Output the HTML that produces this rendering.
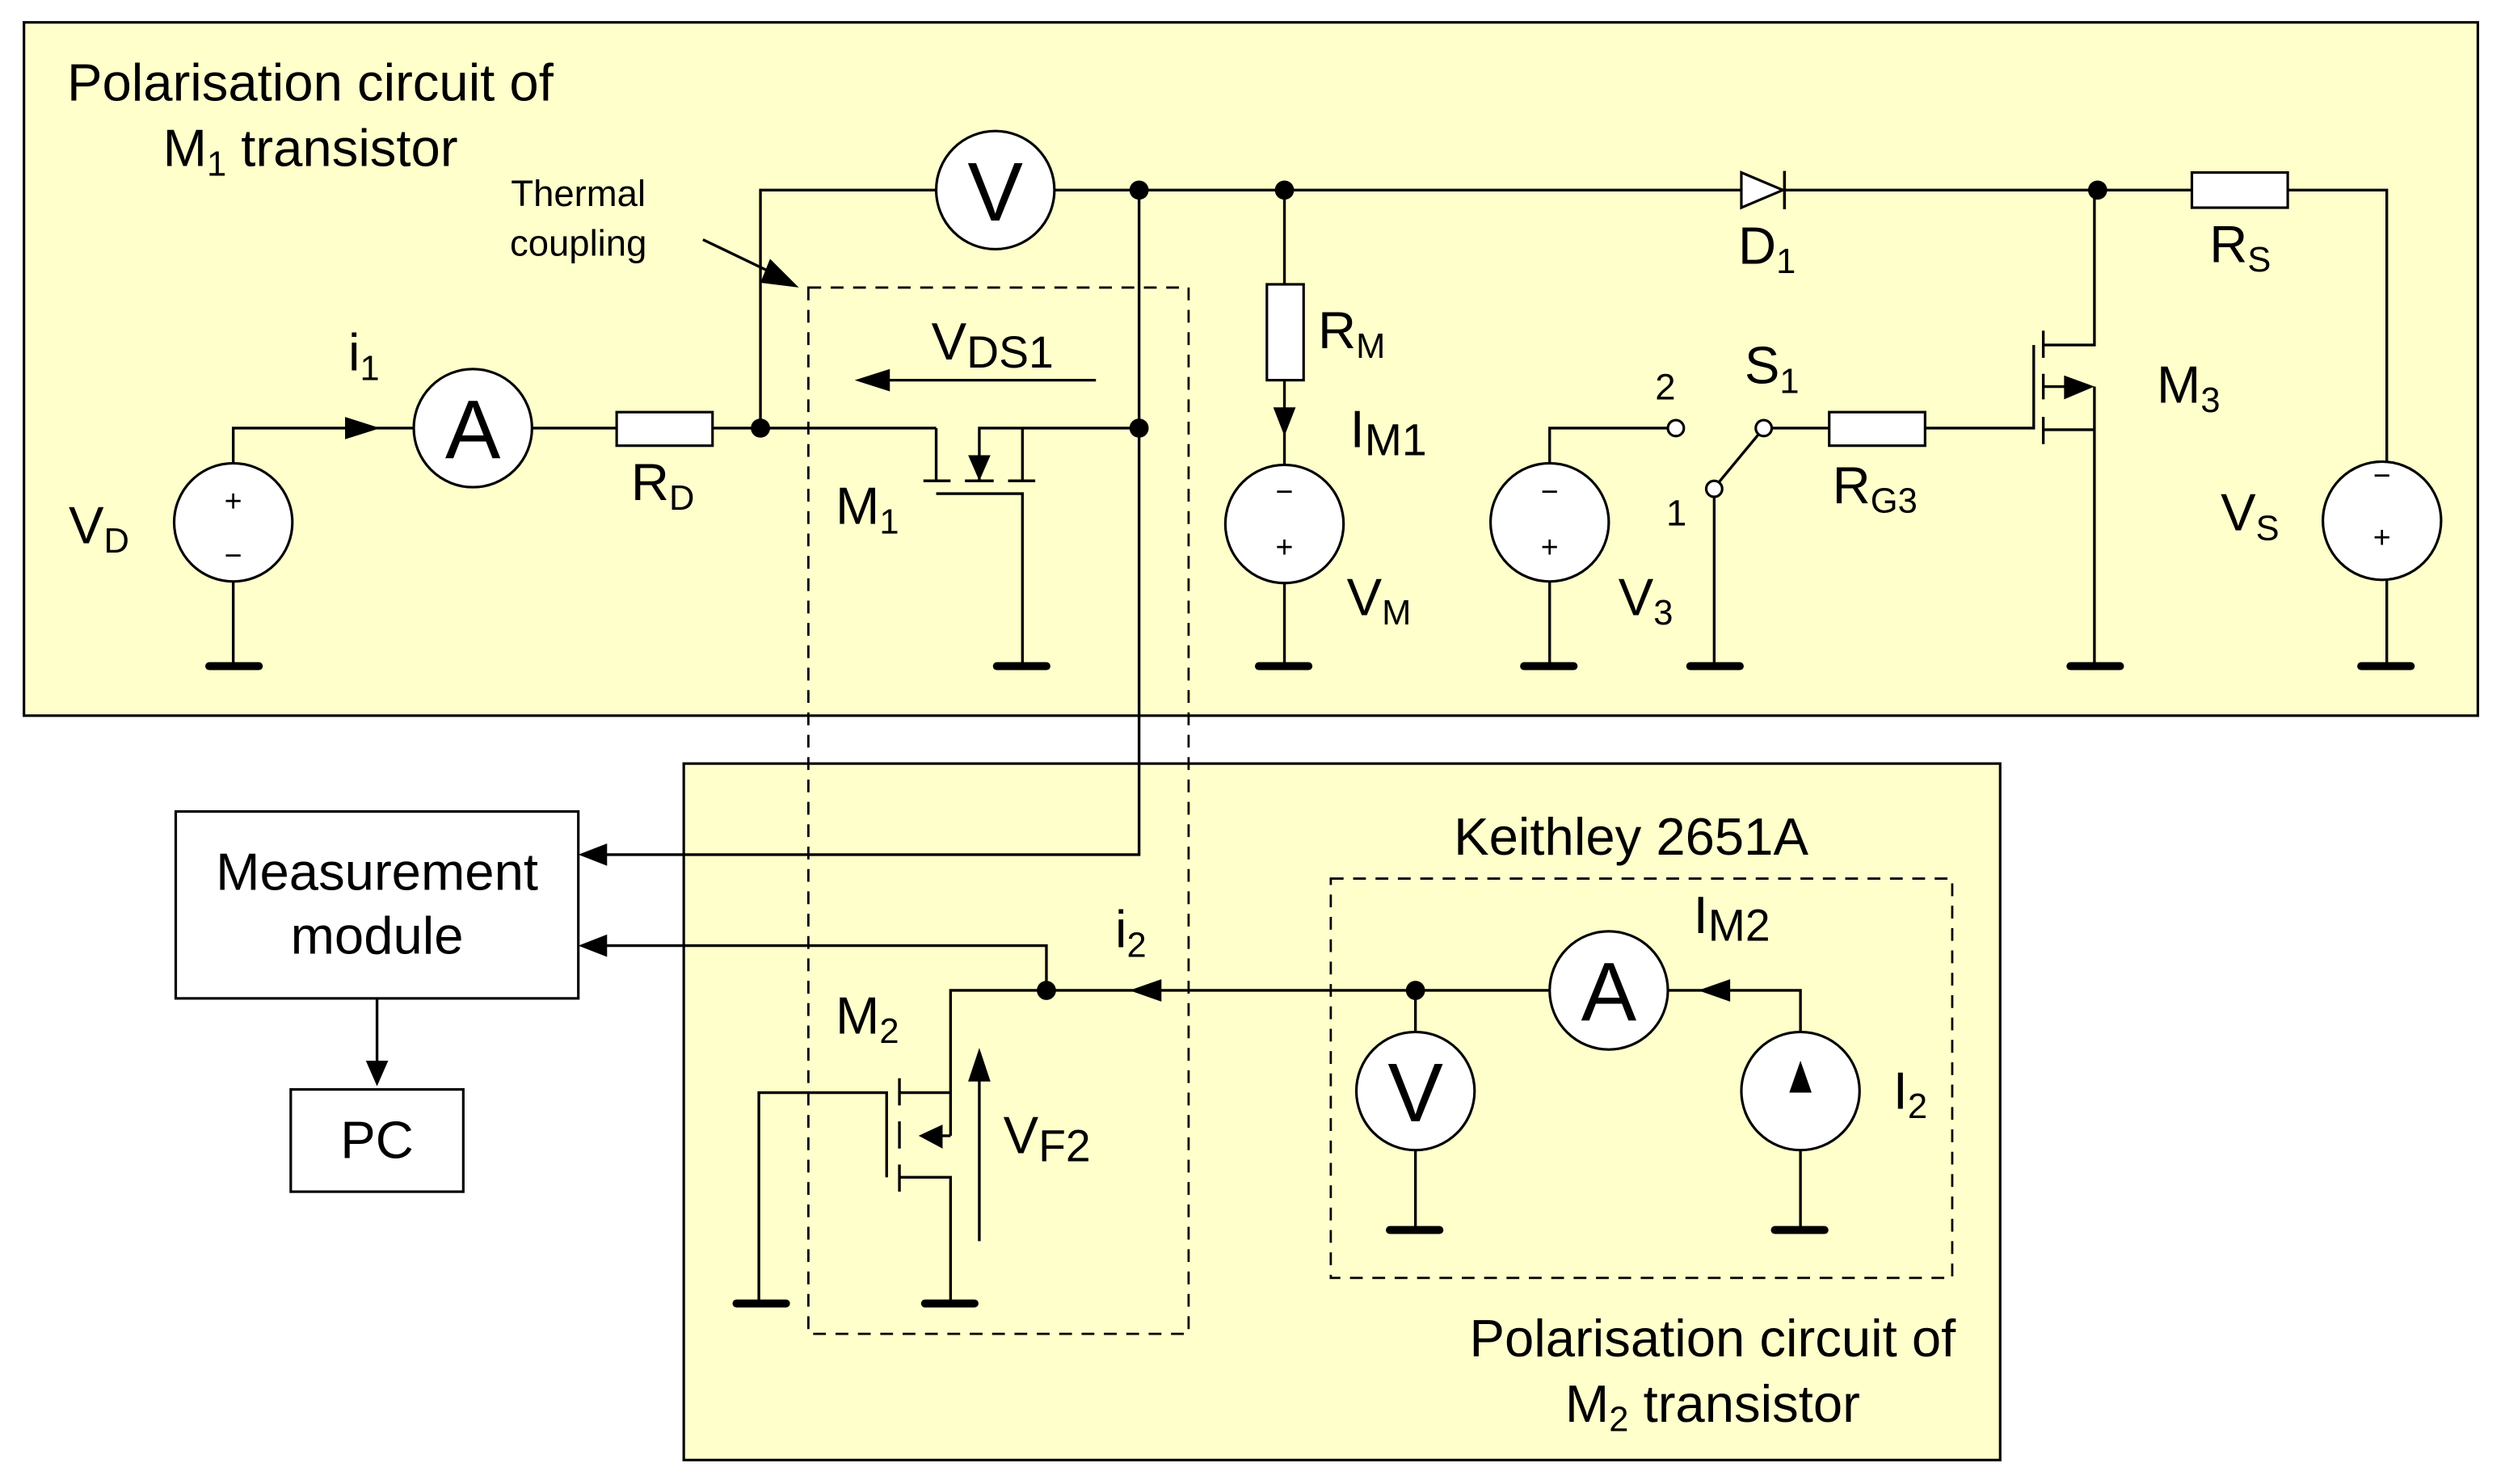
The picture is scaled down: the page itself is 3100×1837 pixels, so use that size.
<!DOCTYPE html>
<html><head><meta charset="utf-8"><style>
html,body{margin:0;padding:0;background:#fff}
svg{display:block}
text{font-family:"Liberation Sans",sans-serif;fill:#000}
</style></head><body>
<svg width="3100" height="1837" viewBox="0 0 1568 929" preserveAspectRatio="none" xmlns="http://www.w3.org/2000/svg">
<rect x="0" y="0" width="1568" height="929" fill="#fff"/>
<rect x="15" y="14" width="1536" height="434" fill="#FFFFCC" stroke="#000" stroke-width="1.6"/>
<rect x="428" y="478" width="824" height="436" fill="#FFFFCC" stroke="#000" stroke-width="1.6"/>
<g fill="none" stroke="#000" stroke-width="1.7">
<rect x="506" y="180" width="238" height="655" stroke-dasharray="8,6" stroke-width="1.4"/>
<rect x="833" y="550" width="389" height="250" stroke-dasharray="8,6" stroke-width="1.4"/>
<polyline points="476,268 476,119 586,119"/>
<polyline points="660,119 1494,119 1494,290"/>
<polyline points="146,290 146,268 259,268"/>
<line x1="146" y1="364" x2="146" y2="417"/>
<line x1="333" y1="268" x2="386" y2="268"/>
<line x1="446" y1="268" x2="586" y2="268"/>
<polyline points="586,268 586,301"/>
<line x1="578" y1="301" x2="595" y2="301"/>
<line x1="604" y1="301" x2="622" y2="301"/>
<line x1="631" y1="301" x2="648" y2="301"/>
<polyline points="586,309 640,309 640,417"/>
<polyline points="613,301 613,268 713,268"/>
<line x1="640" y1="268" x2="640" y2="301"/>
<polyline points="713,119 713,535 370,535"/>
<line x1="440" y1="150" x2="492" y2="175"/>
<line x1="686" y1="238" x2="545" y2="238"/>
<line x1="804" y1="119" x2="804" y2="178"/>
<line x1="804" y1="238" x2="804" y2="291"/>
<line x1="804" y1="365" x2="804" y2="417"/>
<polyline points="970,290 970,268 1044,268"/>
<line x1="970" y1="364" x2="970" y2="417"/>
<line x1="1104" y1="268" x2="1075" y2="303"/>
<line x1="1073" y1="311" x2="1073" y2="417"/>
<line x1="1109" y1="268" x2="1145" y2="268"/>
<polyline points="1205,268 1273,268 1273,216"/>
<line x1="1279" y1="207" x2="1279" y2="224"/>
<line x1="1279" y1="234" x2="1279" y2="250"/>
<line x1="1279" y1="261" x2="1279" y2="278"/>
<polyline points="1279,216 1311,216 1311,119"/>
<line x1="1279" y1="242" x2="1300" y2="242"/>
<polyline points="1279,269 1311,269"/>
<line x1="1311" y1="242" x2="1311" y2="417"/>
<line x1="1494" y1="363" x2="1494" y2="417"/>
<line x1="236" y1="625" x2="236" y2="670"/>
<polyline points="655,620 655,592 370,592"/>
<polyline points="655,620 595,620 595,711"/>
<line x1="595" y1="711" x2="585" y2="711"/>
<polyline points="563,737 595,737 595,816"/>
<line x1="563" y1="684" x2="595" y2="684"/>
<polyline points="555,737 555,684 475,684 475,816"/>
<line x1="563" y1="675" x2="563" y2="692"/>
<line x1="563" y1="702" x2="563" y2="719"/>
<line x1="563" y1="729" x2="563" y2="746"/>
<line x1="613" y1="777" x2="613" y2="670"/>
<line x1="655" y1="620" x2="970" y2="620"/>
<polyline points="1044,620 1127,620 1127,646"/>
<line x1="886" y1="620" x2="886" y2="646"/>
<line x1="886" y1="720" x2="886" y2="770"/>
<line x1="1127" y1="720" x2="1127" y2="770"/>
<line x1="1127" y1="705" x2="1127" y2="675"/>
</g>
<g stroke="#000" stroke-width="5" stroke-linecap="round">
<line x1="131" y1="417" x2="162" y2="417"/>
<line x1="624" y1="417" x2="655" y2="417"/>
<line x1="788" y1="417" x2="819" y2="417"/>
<line x1="954" y1="417" x2="985" y2="417"/>
<line x1="1058" y1="417" x2="1089" y2="417"/>
<line x1="1296" y1="417" x2="1327" y2="417"/>
<line x1="1478" y1="417" x2="1509" y2="417"/>
<line x1="461" y1="816" x2="492" y2="816"/>
<line x1="579" y1="816" x2="610" y2="816"/>
<line x1="870" y1="770" x2="901" y2="770"/>
<line x1="1111" y1="770" x2="1142" y2="770"/>
</g>
<g fill="#fff" stroke="#000" stroke-width="1.6">
<circle cx="146" cy="327" r="37"/>
<circle cx="296" cy="268" r="37"/>
<rect x="386" y="258" width="60" height="21"/>
<circle cx="623" cy="119" r="37"/>
<rect x="793" y="178" width="23" height="60"/>
<circle cx="804" cy="328" r="37"/>
<circle cx="970" cy="327" r="37"/>
<circle cx="1049" cy="268" r="5"/>
<circle cx="1104" cy="268" r="5"/>
<circle cx="1073" cy="306" r="5"/>
<rect x="1145" y="258" width="60" height="21"/>
<rect x="1372" y="108" width="60" height="22"/>
<circle cx="1491" cy="326" r="37"/>
<rect x="110" y="508" width="252" height="117"/>
<rect x="182" y="682" width="108" height="64"/>
<circle cx="886" cy="683" r="37"/>
<circle cx="1007" cy="620" r="37"/>
<circle cx="1127" cy="683" r="37"/>
</g>
<polygon points="1090,108 1090,130 1116,119" fill="#fff" stroke="#000" stroke-width="1.6"/>
<line x1="1117" y1="107" x2="1117" y2="131" stroke="#000" stroke-width="1.8"/>
<g fill="#000">
<circle cx="476" cy="268" r="6"/>
<circle cx="713" cy="268" r="6"/>
<circle cx="713" cy="119" r="6"/>
<circle cx="804" cy="119" r="6"/>
<circle cx="1313" cy="119" r="6"/>
<circle cx="655" cy="620" r="6"/>
<circle cx="886" cy="620" r="6"/>
<polygon points="238,268 216,261 216,275"/>
<polygon points="500,180 476,177 482,162"/>
<polygon points="535,238 557,231 557,245"/>
<polygon points="613,301 606,285 620,285"/>
<polygon points="804,273 797,255 811,255"/>
<polygon points="1311,242 1292,235 1292,250"/>
<polygon points="575,711 590,704 590,719"/>
<polygon points="613,656 606,677 620,677"/>
<polygon points="707,620 727,613 727,627"/>
<polygon points="1063,620 1083,613 1083,627"/>
<polygon points="1127,664 1120,684 1134,684"/>
<polygon points="236,680 229,664 243,664"/>
<polygon points="362,535 380,528 380,542"/>
<polygon points="362,592 380,585 380,599"/>
</g>
<g font-size="19" text-anchor="middle">
<text x="146" y="320">+</text><text x="146" y="354">−</text>
<text x="804" y="314">−</text><text x="804" y="349">+</text>
<text x="970" y="314">−</text><text x="970" y="349">+</text>
<text x="1491" y="304">−</text><text x="1491" y="343">+</text>
</g>
<g font-size="52" text-anchor="middle">
<text x="296" y="287">A</text>
<text x="623" y="138">V</text>
<text x="886" y="702">V</text>
<text x="1007" y="639">A</text>
</g>
<g font-size="33">
<text x="42" y="63">Polarisation circuit of</text>
<text x="102" y="104">M<tspan font-size="22" dy="6">1</tspan><tspan dy="-6"> transistor</tspan></text>
<text x="43" y="340">V<tspan font-size="22" dy="6">D</tspan></text>
<text x="218" y="232">i<tspan font-size="22" dy="6">1</tspan></text>
<text x="395" y="313">R<tspan font-size="22" dy="6">D</tspan></text>
<text x="583" y="225">V<tspan font-size="28" dy="5">DS1</tspan></text>
<text x="523" y="328">M<tspan font-size="22" dy="6">1</tspan></text>
<text x="825" y="218">R<tspan font-size="22" dy="6">M</tspan></text>
<text x="845" y="280">I<tspan font-size="28" dy="5">M1</tspan></text>
<text x="843" y="385">V<tspan font-size="22" dy="6">M</tspan></text>
<text x="1088" y="165">D<tspan font-size="22" dy="6">1</tspan></text>
<text x="1092" y="240">S<tspan font-size="22" dy="6">1</tspan></text>
<text x="1147" y="315">R<tspan font-size="22" dy="6">G3</tspan></text>
<text x="1013" y="385">V<tspan font-size="22" dy="6">3</tspan></text>
<text x="1383" y="164">R<tspan font-size="22" dy="6">S</tspan></text>
<text x="1350" y="252">M<tspan font-size="22" dy="6">3</tspan></text>
<text x="1390" y="332">V<tspan font-size="22" dy="6">S</tspan></text>
<text x="236" y="557" text-anchor="middle">Measurement</text>
<text x="236" y="597" text-anchor="middle">module</text>
<text x="236" y="725" text-anchor="middle">PC</text>
<text x="698" y="593">i<tspan font-size="22" dy="6">2</tspan></text>
<text x="523" y="647">M<tspan font-size="22" dy="6">2</tspan></text>
<text x="628" y="722">V<tspan font-size="28" dy="5">F2</tspan></text>
<text x="1021" y="535" text-anchor="middle">Keithley 2651A</text>
<text x="1060" y="584">I<tspan font-size="28" dy="5">M2</tspan></text>
<text x="1185" y="694">I<tspan font-size="22" dy="6">2</tspan></text>
<text x="1072" y="849" text-anchor="middle">Polarisation circuit of</text>
<text x="1072" y="890" text-anchor="middle">M<tspan font-size="22" dy="6">2</tspan><tspan dy="-6"> transistor</tspan></text>
</g>
<g font-size="23">
<text x="1036" y="250">2</text>
<text x="1043" y="329">1</text>
<text x="362" y="129" text-anchor="middle">Thermal</text>
<text x="362" y="160" text-anchor="middle">coupling</text>
</g>
</svg>
</body></html>
